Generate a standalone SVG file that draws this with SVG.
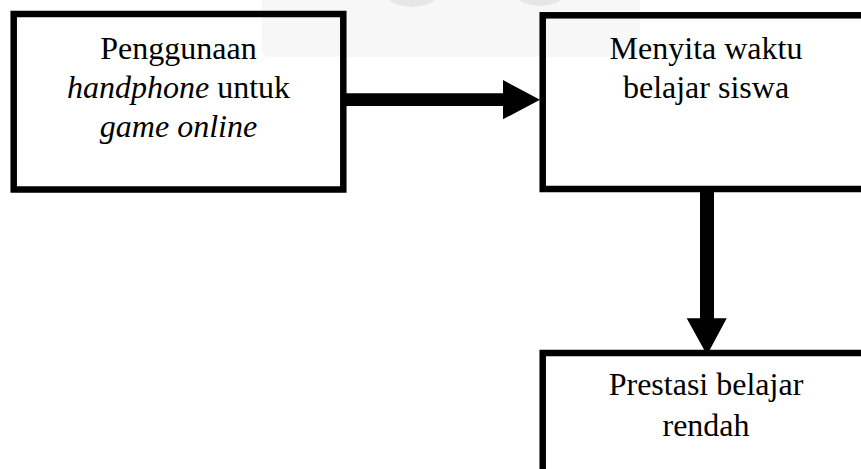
<svg xmlns="http://www.w3.org/2000/svg" width="861" height="469" viewBox="0 0 861 469">
  <style>
    .box { fill: none; stroke: #000; stroke-width: 6.5; }
    .lbl { font-family: "Liberation Serif", "Times New Roman", serif; font-size: 32px; fill: #000; text-anchor: middle; }
    .it { font-style: italic; }
    .conn { fill: #000; }
  </style>
  <rect width="861" height="469" fill="#fff"/>
  <g id="watermark">
    <rect x="262" y="-10" width="378" height="67" rx="8" fill="#f7f7f7"/>
    <ellipse cx="412" cy="-34" rx="41" ry="41" fill="#e6e6e6"/>
    <ellipse cx="540" cy="-34" rx="40" ry="40" fill="#e6e6e6"/>
  </g>
  <g id="node-penggunaan">
    <rect class="box" x="13.7" y="14" width="329.6" height="175.5"/>
    <text class="lbl" x="178.5" y="59">Penggunaan</text>
    <text class="lbl" x="178.5" y="98"><tspan class="it">handphone</tspan> untuk</text>
    <text class="lbl it" x="178.5" y="137">game online</text>
  </g>
  <g id="node-menyita">
    <rect class="box" x="542.7" y="15.3" width="330" height="173.7"/>
    <text class="lbl" x="706" y="59">Menyita waktu</text>
    <text class="lbl" x="706" y="98">belajar siswa</text>
  </g>
  <g id="node-prestasi">
    <rect class="box" x="542.7" y="353" width="330" height="140"/>
    <text class="lbl" x="706" y="395">Prestasi belajar</text>
    <text class="lbl" x="706" y="436">rendah</text>
  </g>
  <g id="connectors">
    <path class="conn" d="M343,93.3 H503 V80 L540,99.7 L503,119.3 V106 H343 Z"/>
    <path class="conn" d="M700,186 H714 V318.3 H726.7 L707,355 L686.7,318.3 H700 Z"/>
  </g>
</svg>
